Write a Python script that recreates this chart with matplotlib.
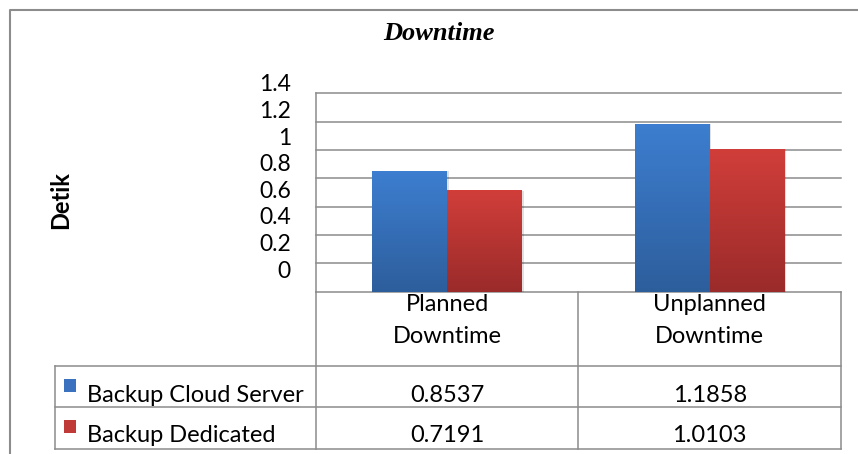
import numpy as np
import matplotlib.pyplot as plt
import matplotlib.colors as mcolors
from matplotlib.transforms import blended_transform_factory
from matplotlib.lines import Line2D
from matplotlib.patches import Rectangle

plt.rcParams['font.family'] = ['Lato', 'DejaVu Sans']

# data
categories = ['Planned\nDowntime', 'Unplanned\nDowntime']
series_names = ['Backup Cloud Server', 'Backup Dedicated']
cloud = [0.8537, 1.1858]
dedicated = [0.7191, 1.0103]
y_ticks = [0, 0.2, 0.4, 0.6, 0.8, 1, 1.2, 1.4]
y_tick_labels = ['0', '0.2', '0.4', '0.6', '0.8', '1', '1.2', '1.4']

W, H = 858, 454
GRAY = '#8c8c8c'
FS = 17


def fx(px):
    return px / W


def fy(py):
    return 1 - py / H


fig = plt.figure(figsize=(W / 100, H / 100), dpi=100)
ax = fig.add_axes([fx(316), fy(291.7), fx(841) - fx(316), fy(93.3) - fy(291.7)])

x = np.arange(len(categories))
w = 0.285
bars_c = ax.bar(x - w / 2, cloud, w, color='#3670c0', zorder=3)
bars_d = ax.bar(x + w / 2, dedicated, w, color='#c03a36', zorder=3)


def gradient(bars, top, bottom):
    c0 = np.array(mcolors.to_rgb(top))
    c1 = np.array(mcolors.to_rgb(bottom))
    t = np.linspace(0, 1, 100)[:, None, None]
    img = c0 * (1 - t) + c1 * t
    for b in bars:
        # soft shadow on the right
        sh = Rectangle((b.get_x() + 0.006, 0), b.get_width(), b.get_height() - 0.005,
                       color='black', alpha=0.12, zorder=2, lw=0)
        ax.add_patch(sh)
        im = ax.imshow(img, extent=[b.get_x(), b.get_x() + b.get_width(), 0, b.get_height()],
                       aspect='auto', origin='upper', zorder=4)
        im.set_clip_path(b)


gradient(bars_c, '#3d7ed0', '#2d5e9c')
gradient(bars_d, '#d13e3a', '#9a2b2a')

ax.set_xlim(-0.5, 1.5)
ax.set_ylim(0, 1.4)
ax.set_yticks(y_ticks)
ax.set_yticklabels([])
ax.set_xticks([])
ax.tick_params(length=0)
ax.yaxis.grid(True, color=GRAY, lw=1.1)
for gl in ax.get_ygridlines():
    gl.set_clip_on(False)
ax.set_axisbelow(True)
for s in ['top', 'right', 'bottom']:
    ax.spines[s].set_visible(False)
ax.spines['left'].set_color(GRAY)
ax.spines['left'].set_linewidth(1.1)

# y tick labels (sit a bit above the gridlines, like the original)
tr_y = blended_transform_factory(fig.transFigure, ax.transData)
for v, lab in zip(y_ticks, y_tick_labels):
    ax.text(fx(291), v * 0.938 + 0.146, lab, transform=tr_y,
            ha='right', va='center', fontsize=16.5)

fig.text(fx(61), fy(200), 'Detik', rotation=90, fontweight='bold',
         ha='center', va='center', fontsize=17)
fig.text(fx(439), fy(34), 'Downtime', family='Liberation Serif', style='italic',
         weight='bold', fontsize=19, ha='center', va='center')

# outer chart border
fig.add_artist(Line2D([fx(9.5), fx(9.5), fx(858)], [fy(454), fy(9.5), fy(9.5)],
                      transform=fig.transFigure, color=GRAY, lw=1.5))

# data table grid
def hline(y, x0, x1):
    fig.add_artist(Line2D([fx(x0), fx(x1)], [fy(y), fy(y)],
                          transform=fig.transFigure, color=GRAY, lw=1.1))


def vline(xp, y0, y1):
    fig.add_artist(Line2D([fx(xp), fx(xp)], [fy(y0), fy(y1)],
                          transform=fig.transFigure, color=GRAY, lw=1.1))


for yy in [366, 407, 449]:
    hline(yy, 55, 841)
vline(55, 366, 449)
for xx in [316, 577.7, 841]:
    vline(xx, 291.7, 449)

tr_x = blended_transform_factory(ax.transData, fig.transFigure)
for i, cat in enumerate(categories):
    for j, line in enumerate(cat.split('\n')):
        ax.text(x[i], fy(311 + 32 * j), line, transform=tr_x,
                ha='center', va='baseline', fontsize=FS)

row_base = [401.5, 442.5]
key_colors = ['#3a72bf', '#c03b38']
for r, (name, vals) in enumerate(zip(series_names, [cloud, dedicated])):
    b = row_base[r]
    fig.add_artist(Rectangle((fx(64), fy(b - 10)), fx(11.7), 13 / H,
                             transform=fig.transFigure, color=key_colors[r], lw=0))
    fig.text(fx(87), fy(b), name, ha='left', va='baseline', fontsize=FS)
    for i, v in enumerate(vals):
        ax.text(x[i], fy(b), f'{v:.4f}', transform=tr_x,
                ha='center', va='baseline', fontsize=FS)

fig.savefig('out.png', dpi=100)
